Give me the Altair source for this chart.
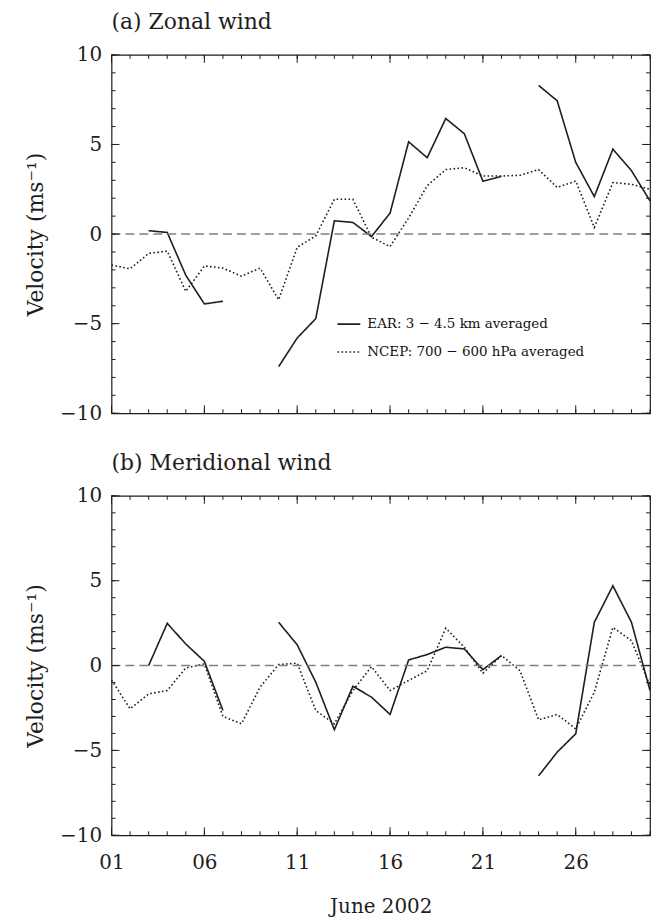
import altair as alt
import pandas as pd

days = list(range(1, 31))
major_days = [1, 6, 11, 16, 21, 26]
y_major = [-10, -5, 0, 5, 10]
y_minor = list(range(-10, 11))

ear_label = "EAR: 3 \u2212 4.5 km averaged"
ncep_label = "NCEP: 700 \u2212 600 hPa averaged"

# (a) zonal wind
ear_u = [None, None, 0.19, 0.09, -2.3, -3.9, -3.75, None, None, -7.4,
         -5.8, -4.72, 0.74, 0.65, -0.14, 1.17, 5.15, 4.26, 6.45, 5.6,
         2.95, 3.22, None, 8.3, 7.44, 4.0, 2.09, 4.74, 3.54, 1.85]
ncep_u = [-1.73, -1.94, -1.08, -0.95, -3.2, -1.78, -1.9, -2.35, -1.9, -3.67,
          -0.74, -0.1, 1.94, 1.94, -0.18, -0.7, 0.9, 2.7, 3.6, 3.7,
          3.24, 3.24, 3.28, 3.6, 2.6, 2.96, 0.37, 2.87, 2.78, 2.5]
# (b) meridional wind
ear_v = [None, None, 0.0, 2.49, 1.27, 0.25, -2.65, None, None, 2.55,
         1.22, -0.98, -3.78, -1.22, -1.86, -2.88, 0.33, 0.65, 1.08, 0.98,
         -0.24, 0.59, None, -6.5, -5.1, -4.02, 2.55, 4.7, 2.55, -1.47]
ncep_v = [-0.85, -2.55, -1.67, -1.47, -0.14, 0.1, -3.0, -3.43, -1.27, 0.06,
          0.14, -2.65, -3.43, -1.47, -0.06, -1.47, -0.88, -0.3, 2.2, 1.08,
          -0.45, 0.59, -0.3, -3.2, -2.88, -3.73, -1.57, 2.25, 1.47, -1.2]

FONT = "DejaVu Serif"
INK = "#1e1e1e"
W = 541
MAJ, MIN = 8, 4


def build_df(ear, ncep):
    rows = []
    seg = 0
    for d, v in zip(days, ear):
        if v is None:
            seg += 1
            continue
        rows.append({"day": d, "value": v, "series": ear_label, "seg": f"e{seg}"})
    for d, v in zip(days, ncep):
        rows.append({"day": d, "value": v, "series": ncep_label, "seg": "n"})
    return pd.DataFrame(rows)


xs = alt.Scale(domain=[1, 30], nice=False, zero=False)
ys = alt.Scale(domain=[-10, 10], nice=False, zero=False)


def x_ticks(values, length, height):
    src = alt.Chart(pd.DataFrame({"day": values}))
    bottom = src.mark_rule(color=INK, strokeWidth=1).encode(
        x=alt.X("day:Q", scale=xs, axis=None),
        y=alt.value(height - length), y2=alt.value(height))
    top = src.mark_rule(color=INK, strokeWidth=1).encode(
        x=alt.X("day:Q", scale=xs, axis=None),
        y=alt.value(0), y2=alt.value(length))
    return [bottom, top]


def y_ticks(values, length):
    src = alt.Chart(pd.DataFrame({"value": values}))
    left = src.mark_rule(color=INK, strokeWidth=1).encode(
        y=alt.Y("value:Q", scale=ys, axis=None),
        x=alt.value(0), x2=alt.value(length))
    right = src.mark_rule(color=INK, strokeWidth=1).encode(
        y=alt.Y("value:Q", scale=ys, axis=None),
        x=alt.value(W - length), x2=alt.value(W))
    return [left, right]


def panel(ear, ncep, title, height, bottom_labels, show_legend):
    df = build_df(ear, ncep)

    if bottom_labels:
        x_axis = alt.Axis(orient="bottom", values=major_days,
                          labelExpr="datum.value < 10 ? '0' + datum.value : '' + datum.value",
                          ticks=False, tickSize=0, domain=False, grid=False,
                          labelFont=FONT, labelFontSize=20, labelColor=INK,
                          labelPadding=17, labelFlush=False, labelOverlap=False,
                          title="June 2002", titleFont=FONT, titleFontSize=20,
                          titleFontWeight="normal", titleColor=INK, titlePadding=25)
    else:
        x_axis = None

    y_axis = alt.Axis(orient="left", values=y_major, ticks=False, tickSize=0,
                      domain=False, grid=False, labelFont=FONT, labelFontSize=20,
                      labelColor=INK, labelPadding=10, labelOverlap=False,
                      title="Velocity (ms\u207b\u00b9)", titleFont=FONT,
                      titleFontSize=22, titleFontWeight="normal", titleColor=INK,
                      titlePadding=12)

    if show_legend:
        legend = alt.Legend(orient="none", legendX=226, legendY=258, title=None,
                            labelFont=FONT, labelFontSize=13.5, labelLimit=0,
                            labelColor="#111", symbolType="stroke",
                            symbolStrokeWidth=1.6, symbolSize=520,
                            symbolStrokeColor=INK, rowPadding=9, padding=0,
                            labelOffset=6)
    else:
        legend = None

    lines = alt.Chart(df).mark_line(strokeWidth=1.6, color=INK).encode(
        x=alt.X("day:Q", scale=xs, axis=x_axis),
        y=alt.Y("value:Q", scale=ys, axis=y_axis),
        strokeDash=alt.StrokeDash("series:N",
                                  scale=alt.Scale(domain=[ear_label, ncep_label],
                                                  range=[[1, 0], [1.6, 2.4]]),
                                  legend=legend),
        detail="seg:N",
    )

    zero = alt.Chart(pd.DataFrame({"value": [0]})).mark_rule(
        color="#808080", strokeWidth=1.5, strokeDash=[9, 5]
    ).encode(y=alt.Y("value:Q", scale=ys, axis=None))

    tick_layers = (x_ticks(major_days, MAJ, height) + x_ticks(days, MIN, height)
                   + y_ticks(y_major, MAJ) + y_ticks(y_minor, MIN))

    return alt.layer(lines, zero, *tick_layers).resolve_axis(
        x="independent", y="independent"
    ).properties(
        width=W, height=height,
        title=alt.Title(title, anchor="start", frame="group", font=FONT,
                        fontSize=22, fontWeight="normal", color=INK, offset=11),
    )


pa = panel(ear_u, ncep_u, "(a) Zonal wind", 360, False, True)
pb = panel(ear_v, ncep_v, "(b) Meridional wind", 341, True, False)

chart = alt.vconcat(pa, pb, spacing=27).resolve_scale(
    strokeDash="independent"
).properties(
    padding={"left": 16, "top": 0, "right": 0, "bottom": 0},
    background="white",
).configure_view(stroke=INK, strokeWidth=1.2)

chart.save("out.html", embed_options={"renderer": "svg", "actions": False})
